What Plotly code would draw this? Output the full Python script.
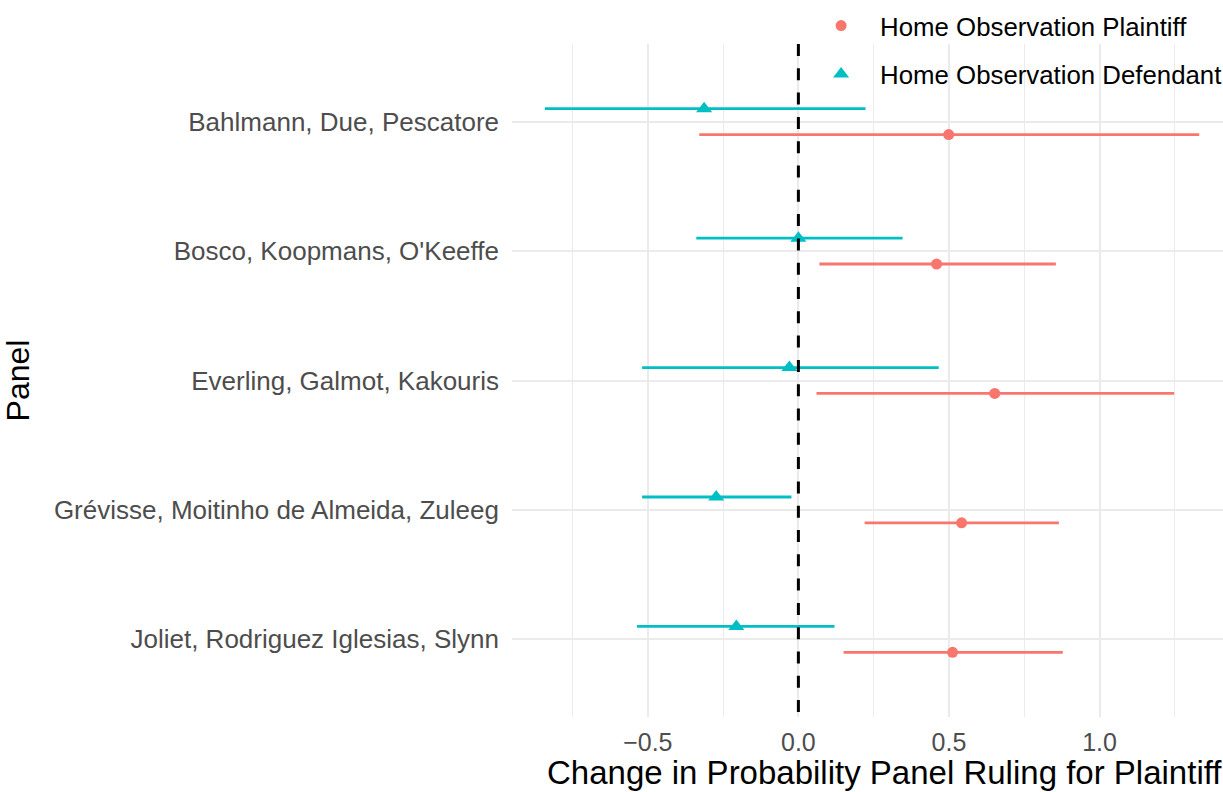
import plotly.graph_objects as go

# Panels, top to bottom
panels = [
    "Bahlmann, Due, Pescatore",
    "Bosco, Koopmans, O'Keeffe",
    "Everling, Galmot, Kakouris",
    "Grévisse, Moitinho de Almeida, Zuleeg",
    "Joliet, Rodriguez Iglesias, Slynn",
]

# Home Observation Plaintiff: estimate and confidence interval
plaintiff_est = [0.499, 0.459, 0.652, 0.542, 0.512]
plaintiff_lo = [-0.329, 0.070, 0.060, 0.220, 0.150]
plaintiff_hi = [1.331, 0.855, 1.248, 0.865, 0.878]

# Home Observation Defendant: estimate and confidence interval
defendant_est = [-0.313, 0.000, -0.030, -0.273, -0.206]
defendant_lo = [-0.842, -0.339, -0.519, -0.519, -0.536]
defendant_hi = [0.223, 0.346, 0.466, -0.023, 0.120]

x_ticks = [-0.5, 0.0, 0.5, 1.0]
x_tick_text = ["\u22120.5", "0.0", "0.5", "1.0"]

RED = "#F8766D"
TEAL = "#00BFC4"
DODGE = 0.1

pos = list(range(len(panels)))

fig = go.Figure()


def add_series(name, est, lo, hi, offset, color, symbol, size, group):
    fig.add_trace(go.Scatter(
        x=est,
        y=[p + offset for p in pos],
        mode="markers",
        name=name,
        legendgroup=group,
        marker=dict(color=color, symbol=symbol, size=size, line=dict(width=0)),
        error_x=dict(
            type="data",
            symmetric=False,
            array=[h - e for h, e in zip(hi, est)],
            arrayminus=[e - l for e, l in zip(est, lo)],
            color=color,
            thickness=2.8,
            width=0,
        ),
    ))


add_series("Home Observation Plaintiff", plaintiff_est, plaintiff_lo, plaintiff_hi,
           DODGE, RED, "circle", 11, "p")
add_series("Home Observation Defendant", defendant_est, defendant_lo, defendant_hi,
           -DODGE, TEAL, "triangle-up", 14, "d")

# Reference line at zero, drawn top to bottom
fig.add_shape(type="line", xref="x", yref="paper", x0=0, x1=0, y0=1, y1=0,
              line=dict(color="black", width=3, dash="12px,12.3px"), layer="above")

# x-axis title, centred on the full panel width
fig.add_annotation(
    text="Change in Probability Panel Ruling for Plaintiff",
    xref="paper", yref="paper", x=0.5246, y=-0.083,
    xanchor="center", yanchor="middle", showarrow=False,
    font=dict(size=33, color="black"),
)

fig.update_layout(
    width=1223,
    height=792,
    margin=dict(l=512, r=0, t=44, b=75, autoexpand=False),
    paper_bgcolor="white",
    plot_bgcolor="white",
    font=dict(family="Liberation Sans, Arial, sans-serif", color="black"),
    showlegend=True,
    legend=dict(
        x=0.408, y=1.062, xanchor="left", yanchor="top",
        bgcolor="rgba(0,0,0,0)",
        font=dict(size=25.8, color="black"),
        tracegroupgap=12,
        itemwidth=68,
        itemsizing="trace",
    ),
    xaxis=dict(
        range=[-0.951, 1.41],
        tickvals=x_ticks,
        ticktext=x_tick_text,
        tickfont=dict(size=25, color="#4D4D4D"),
        showgrid=True,
        gridcolor="#EBEBEB",
        gridwidth=2,
        minor=dict(dtick=0.5, tick0=0.25, showgrid=True, gridcolor="#EBEBEB", gridwidth=1.2),
        zeroline=False,
        showline=False,
        ticks="",
        ticklabelstandoff=8,
        automargin=False,
    ),
    yaxis=dict(
        range=[4.6, -0.6],
        tickvals=pos,
        ticktext=panels,
        tickfont=dict(size=26, color="#4D4D4D"),
        showgrid=True,
        gridcolor="#EBEBEB",
        gridwidth=2,
        zeroline=False,
        showline=False,
        ticks="",
        ticklabelstandoff=12,
        automargin=False,
        title=dict(text="Panel", font=dict(size=32, color="black"), standoff=14),
    ),
)

fig.write_html("out.html")
